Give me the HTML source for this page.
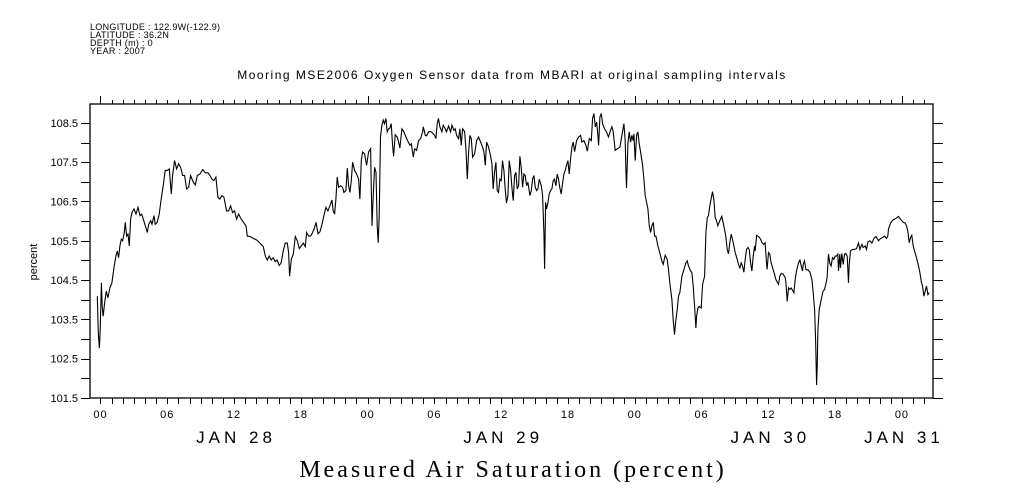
<!DOCTYPE html>
<html><head><meta charset="utf-8"><style>
html,body{margin:0;padding:0;background:#fff;}
svg{display:block;font-family:"Liberation Sans",sans-serif;}
</style></head><body>
<svg id="chart" width="1009" height="504" viewBox="0 0 1009 504" xmlns="http://www.w3.org/2000/svg">
<g font-size="9" fill="#000" letter-spacing="0.3">
<text x="90" y="30">LONGITUDE : 122.9W(-122.9)</text>
<text x="90" y="38">LATITUDE : 36.2N</text>
<text x="90" y="46">DEPTH (m) : 0</text>
<text x="90" y="54">YEAR : 2007</text>
</g>
<text x="512" y="79" font-size="12" text-anchor="middle" letter-spacing="1.5">Mooring MSE2006 Oxygen Sensor data from MBARI at original sampling intervals</text>
<text x="513" y="477" font-size="24" text-anchor="middle" letter-spacing="3" font-family="Liberation Serif, serif">Measured Air Saturation (percent)</text>
<text x="0" y="0" font-size="11" text-anchor="middle" transform="translate(37,262) rotate(-90)">percent</text>
<g id="axes"></g>
<g id="series"></g>
</svg>
<script>
const hours=[-0.28,-0.19,-0.10,-0.02,0.08,0.16,0.25,0.37,0.52,0.67,0.85,1.03,1.21,1.39,1.51,1.63,1.75,1.87,1.99,2.14,2.23,2.35,2.47,2.59,2.71,2.83,3.01,3.19,3.37,3.55,3.70,3.85,4.03,4.21,4.33,4.51,4.63,4.81,4.92,5.10,5.28,5.46,5.64,5.82,6.00,6.18,6.36,6.48,6.66,6.84,7.02,7.20,7.38,7.56,7.74,7.92,8.10,8.34,8.52,8.70,8.94,9.18,9.42,9.66,9.84,10.01,10.19,10.37,10.55,10.73,10.91,11.09,11.33,11.51,11.69,11.87,12.05,12.23,12.41,12.65,12.89,13.07,13.19,13.43,13.73,14.03,14.33,14.63,14.81,14.99,15.16,15.34,15.52,15.70,15.88,16.06,16.24,16.42,16.60,16.78,16.90,16.99,17.14,17.32,17.50,17.68,17.86,18.04,18.22,18.40,18.52,18.70,18.88,19.06,19.24,19.36,19.54,19.72,19.90,20.07,20.25,20.43,20.61,20.79,20.91,21.03,21.15,21.27,21.39,21.57,21.75,21.87,22.05,22.17,22.29,22.41,22.53,22.65,22.83,23.01,23.19,23.31,23.43,23.55,23.73,23.91,24.09,24.27,24.39,24.51,24.63,24.75,24.86,24.95,25.04,25.16,25.28,25.40,25.52,25.64,25.76,25.88,26.00,
26.12,26.24,26.33,26.48,26.66,26.78,26.90,27.08,27.26,27.44,27.62,27.80,27.92,28.10,28.22,28.40,28.58,28.76,28.94,29.00,29.18,29.30,29.48,29.66,29.84,30.02,30.13,30.25,30.37,30.49,30.67,30.79,30.97,31.09,31.27,31.45,31.57,31.75,31.87,31.99,32.17,32.29,32.41,32.53,32.71,32.83,32.95,33.07,33.19,33.31,33.43,33.61,33.79,33.97,34.15,34.33,34.45,34.57,34.69,34.87,35.04,35.16,35.28,35.40,35.52,35.64,35.76,35.88,36.00,36.12,36.24,36.36,36.48,36.60,36.72,36.84,36.96,37.08,37.20,37.32,37.44,37.56,37.68,37.80,37.92,38.04,38.16,38.28,38.40,38.58,38.70,38.82,38.94,39.06,39.18,39.30,39.42,39.60,39.72,39.84,39.90,39.99,40.08,40.20,40.31,40.43,40.55,40.67,40.79,40.91,41.03,41.15,41.27,41.39,41.51,41.63,41.75,41.87,41.99,42.11,42.23,42.35,42.47,42.59,42.77,42.95,43.13,43.25,43.43,43.61,43.73,43.91,44.09,44.21,44.33,44.45,44.57,44.69,44.75,44.87,44.99,45.11,45.28,45.46,45.64,45.82,45.94,46.06,46.24,46.42,46.66,46.84,47.02,47.14,47.20,47.26,47.38,47.50,47.62,47.74,47.86,47.92,48.04,48.16,48.28,48.40,48.52,48.70,48.82,48.94,49.06,49.18,49.30,49.42,49.54,49.66,49.78,49.90,50.08,50.20,50.32,50.43,50.55,50.73,50.91,51.03,51.15,51.33,51.45,51.57,51.69,51.81,51.93,52.05,
52.23,52.41,52.59,52.71,52.83,53.01,53.13,53.25,53.37,53.49,53.55,53.67,53.79,53.97,54.09,54.27,54.39,54.51,54.62,54.74,54.86,54.98,55.10,55.22,55.34,55.46,55.64,55.82,56.00,56.18,56.30,56.42,56.54,56.66,56.78,56.90,57.02,57.20,57.32,57.44,57.56,57.68,57.80,57.92,58.04,58.16,58.28,58.40,58.52,58.64,58.76,58.82,58.94,59.12,59.30,59.42,59.59,59.71,59.83,59.89,60.01,60.13,60.25,60.43,60.55,60.67,60.79,60.91,61.03,61.15,61.33,61.51,61.57,61.69,61.81,61.93,62.05,62.17,62.29,62.41,62.53,62.71,62.83,62.95,63.07,63.13,63.25,63.37,63.55,63.73,63.91,64.03,64.15,64.24,64.33,64.39,64.45,64.57,64.69,64.81,64.92,65.04,65.16,65.28,65.40,65.52,65.64,65.76,65.88,66.00,66.12,66.24,66.30,66.42,66.48,66.60,66.72,66.84,66.96,67.08,67.20,67.26,67.38,67.56,67.74,67.92,68.10,68.22,68.40,68.52,68.70,68.82,68.94,69.12,69.30,69.48,69.66,69.89,70.07,70.25,70.43,70.61,70.73,70.79,70.97,71.21,71.45,71.69,71.87,72.11,72.29,72.41,72.53,72.65,72.77,72.89,73.01,73.13,73.31,73.49,73.61,73.73,73.85,73.97,74.09,74.21,74.33,74.45];
const values=[104.09,103.15,102.77,103.24,104.43,103.83,103.58,103.92,104.22,104.05,104.30,104.43,104.81,105.11,105.24,105.07,105.37,105.54,105.50,105.71,105.97,105.62,105.67,105.37,106.05,106.22,106.31,106.18,106.35,106.14,106.18,106.05,105.88,105.71,105.92,106.01,105.92,106.14,105.92,105.97,106.18,106.56,106.90,107.29,107.29,107.33,106.69,107.16,107.54,107.33,107.46,107.37,107.16,107.16,106.82,106.86,107.16,106.99,106.92,107.16,107.20,107.31,107.23,107.23,107.16,107.07,107.03,107.12,106.61,106.56,106.65,106.61,106.26,106.26,106.39,106.22,106.26,106.05,106.18,106.05,105.95,105.88,105.62,105.61,105.56,105.52,105.44,105.35,105.11,105.01,105.11,105.01,105.07,104.97,105.01,104.87,104.94,105.24,105.44,105.44,105.20,104.60,105.03,105.16,105.61,105.50,105.30,105.37,105.44,105.35,105.71,105.62,105.62,105.71,105.84,105.97,105.68,105.73,105.92,106.14,106.35,106.26,106.39,106.54,106.26,106.18,106.56,107.12,106.86,106.90,106.86,106.73,106.78,107.35,106.90,106.73,107.03,107.50,107.29,107.20,107.07,106.56,107.54,107.76,107.71,107.42,107.76,107.84,105.88,106.69,107.37,107.24,105.88,105.45,106.14,108.14,108.44,108.57,108.48,108.61,108.27,108.35,108.37,
108.48,107.93,107.65,108.20,108.14,108.01,107.86,108.35,108.27,108.14,108.03,107.93,107.97,107.63,107.84,107.80,108.05,108.10,108.27,108.40,108.18,108.17,108.27,108.28,108.24,108.18,108.10,108.48,108.61,108.40,108.27,108.44,108.35,108.27,108.42,108.27,108.44,108.31,108.35,108.18,108.10,108.35,107.93,108.35,108.28,107.84,107.07,107.76,108.18,108.10,107.63,107.71,108.05,108.14,108.01,107.88,107.76,107.42,108.01,107.88,107.67,107.46,106.82,107.24,107.50,106.78,106.73,107.07,107.03,107.54,107.29,106.82,106.46,106.65,107.54,107.29,106.86,106.52,107.16,107.24,106.82,106.90,107.65,107.37,106.86,107.20,107.16,106.90,106.99,106.65,106.78,107.07,107.16,106.86,106.78,106.82,107.07,106.90,106.65,105.71,104.79,106.48,106.31,106.48,106.69,106.78,106.82,107.03,107.07,106.90,107.20,107.07,106.84,106.69,106.95,107.20,107.29,107.42,107.54,107.20,107.59,107.88,108.01,107.77,108.05,108.14,108.18,108.01,108.05,107.93,107.78,108.10,108.05,108.61,108.74,108.40,108.52,108.18,107.93,108.65,108.74,108.48,108.35,108.27,108.14,108.31,108.40,108.27,107.80,107.84,107.88,108.18,108.48,108.05,107.29,106.84,107.97,108.27,108.01,108.18,108.05,108.22,107.54,108.18,108.27,107.97,107.76,107.42,107.07,106.65,106.48,106.31,105.88,105.71,105.88,105.97,105.62,105.62,105.37,105.24,105.11,104.99,104.90,105.13,105.03,104.77,104.43,104.00,103.49,103.11,103.49,103.75,104.09,104.19,
104.60,104.77,104.94,104.99,104.86,104.73,104.69,104.35,103.83,103.28,103.58,103.79,103.83,103.79,104.39,104.60,105.71,106.09,106.14,106.39,106.56,106.75,106.56,106.09,106.01,105.88,106.01,106.12,105.88,105.62,105.28,105.17,105.45,105.67,105.54,105.37,105.20,105.03,104.90,104.81,104.94,104.86,104.70,105.03,105.28,105.33,105.28,104.94,104.73,105.11,105.37,105.24,105.64,105.61,105.54,105.45,105.41,105.45,104.94,104.77,105.20,105.16,104.94,104.77,104.65,104.52,104.45,104.39,104.60,104.67,104.65,104.56,104.47,103.96,104.30,104.26,104.30,104.24,104.18,104.52,104.73,104.94,105.01,104.86,104.73,104.90,104.99,104.77,104.76,104.70,104.52,104.18,103.75,102.98,101.83,102.30,103.24,103.75,103.92,104.09,104.22,104.26,104.39,104.56,105.16,104.93,104.86,105.07,105.03,105.11,105.11,105.16,104.73,105.16,104.81,105.18,104.90,105.16,105.18,105.11,104.43,104.90,105.24,105.28,105.28,105.30,105.44,105.28,105.41,105.33,105.37,105.28,105.47,105.50,105.44,105.56,105.61,105.50,105.56,105.58,105.62,105.56,105.62,105.80,105.95,106.03,106.07,106.12,106.05,105.97,105.95,105.88,105.75,105.45,105.58,105.64,105.37,105.24,105.07,104.86,104.69,104.47,104.35,104.09,104.22,104.35,104.13,104.18];
const yTickLabels=["101.5","102.5","103.5","104.5","105.5","106.5","107.5","108.5"];
const xTickHours=[0,6,12,18,24,30,36,42,48,54,60,66,72];
const xTickLabels=["00","06","12","18","00","06","12","18","00","06","12","18","00"];
const dayHours=[12,36,60,72];
const dayLabels=["JAN 28","JAN 29","JAN 30","JAN 31"];

const L=90,R=933,T=104,B=398;
const H0=-0.94,H1=74.79,V0=101.5,V1=108.98;
const sx=h=>L+(h-H0)/(H1-H0)*(R-L);
const sy=v=>B-(v-V0)/(V1-V0)*(B-T);
const NS="http://www.w3.org/2000/svg";
const axes=document.getElementById('axes');
function mk(tag,attrs,parent){const e=document.createElementNS(NS,tag);for(const k in attrs)e.setAttribute(k,attrs[k]);parent.appendChild(e);return e;}

const frame=mk('rect',{x:L,y:T,width:R-L,height:B-T,fill:'none',stroke:'#000','stroke-width':1.3},axes);



let tp='';
for(let v=101.5;v<=108.8;v+=0.5){const y=Math.round(sy(v))+0.5;tp+=`M${L-9},${y}H${L}M${R},${y}H${R+10}`;}
for(let h=-0;h<=74;h++){const x=Math.round(sx(h))+0.5;tp+=`M${x},${B}V${B+6}`;const big=(h%24===0);tp+=`M${x},${T}V${T-(big?8:4)}`;}
const ticks=mk('path',{d:tp,stroke:'#000','stroke-width':1,fill:'none'},axes);



yTickLabels.forEach(s=>{
  const t=mk('text',{x:L-12,y:sy(parseFloat(s))+4,'font-size':11,'text-anchor':'end'},axes);
  t.textContent=s;
  
  
});
xTickHours.forEach((h,i)=>{
  const t=mk('text',{x:sx(h),y:418,'font-size':11,'text-anchor':'middle','letter-spacing':1},axes);
  t.textContent=xTickLabels[i];
  
  
});
dayHours.forEach((h,i)=>{
  const t=mk('text',{x:sx(h)+2,y:443,'font-size':17,'text-anchor':'middle','letter-spacing':4},axes);
  t.textContent=dayLabels[i];
  
  
});

const pts=hours.map((h,i)=>sx(h).toFixed(1)+','+sy(values[i]).toFixed(1)).join(' ');
const line=mk('polyline',{points:pts,fill:'none',stroke:'#000','stroke-width':1.1,'stroke-linejoin':'miter'},document.getElementById('series'));


</script>
</body></html>
